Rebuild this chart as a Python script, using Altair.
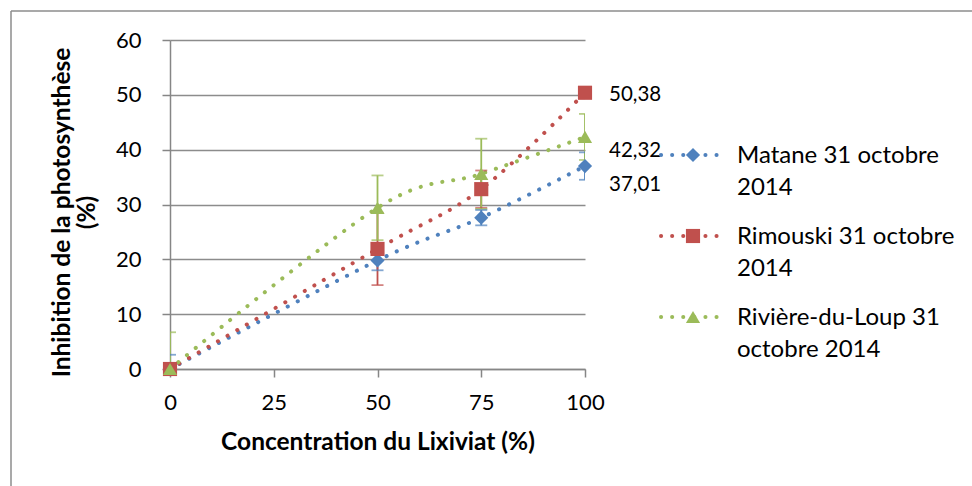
import altair as alt
import pandas as pd

# ---- data ----
concentration = [0, 50, 75, 100]
series_names = ["Matane 31 octobre 2014", "Rimouski 31 octobre 2014",
                "Rivière-du-Loup 31 octobre 2014"]
legend_line1 = ["Matane 31 octobre", "Rimouski 31 octobre", "Rivière-du-Loup 31"]
legend_line2 = ["2014", "2014", "octobre 2014"]
matane = [0, 19.8, 27.6, 37.01]
matane_err = [2.6, 1.8, 1.4, 2.5]
rimouski = [0, 21.9, 32.8, 50.38]
rimouski_err = [0, 6.6, 3.4, 1.0]
rdl = [0, 29.4, 35.6, 42.32]
rdl_err = [6.7, 5.9, 6.4, 4.2]
x_ticks = [0, 25, 50, 75, 100]
y_ticks = [0, 10, 20, 30, 40, 50, 60]

colors = ["#4F81BD", "#C0504D", "#9BBB59"]
shapes = ["diamond", "square", "triangle-up"]
FONT = "Lato"
FS_TICK = 22
FS_TEXT = 24
FS_LAB = 20.5
FS_TITLE = 24.5

rows = []
for name, vals, errs in [(series_names[0], matane, matane_err),
                         (series_names[1], rimouski, rimouski_err),
                         (series_names[2], rdl, rdl_err)]:
    for c, v, e in zip(concentration, vals, errs):
        rows.append({"series": name, "conc": c, "value": v, "err": e})
df = pd.DataFrame(rows)

legend_df = pd.DataFrame({"series": series_names, "line1": legend_line1,
                          "line2": legend_line2})

color = alt.Color("series:N", scale=alt.Scale(domain=series_names, range=colors), legend=None)
shape = alt.Shape("series:N", scale=alt.Scale(domain=series_names, range=shapes), legend=None)

x_enc = alt.X("conc:Q", scale=alt.Scale(domain=[0, 100], nice=False),
              axis=alt.Axis(values=x_ticks, title="Concentration du Lixiviat (%)", grid=False))
y_axis = alt.Axis(values=y_ticks, title=["Inhibition de la photosynthèse", "(%)"], grid=True,
                  titleY=172)
y_scale = alt.Scale(domain=[0, 60], nice=False)

base = alt.Chart(df)

lines = base.mark_line(interpolate="cardinal", strokeDash=[0.1, 11], strokeCap="round",
                       strokeWidth=4).encode(
    x=x_enc, y=alt.Y("value:Q", scale=y_scale, axis=y_axis), color=color, detail="series:N")

err_base = base.transform_filter("datum.err > 0").transform_calculate(
    lo="datum.value - datum.err", hi="datum.value + datum.err")
err_rules = err_base.mark_rule(strokeWidth=1.8, clip=True).encode(
    x=x_enc, y=alt.Y("lo:Q", scale=y_scale, axis=y_axis), y2="hi:Q", color=color)
cap_lo = err_base.mark_tick(orient="horizontal", size=12, thickness=1.8, clip=True).encode(
    x=x_enc, y=alt.Y("lo:Q", scale=y_scale, axis=y_axis), color=color)
cap_hi = err_base.mark_tick(orient="horizontal", size=12, thickness=1.8, clip=True).encode(
    x=x_enc, y=alt.Y("hi:Q", scale=y_scale, axis=y_axis), color=color)

points = base.mark_point(filled=True, size=200, opacity=1).encode(
    x=x_enc, y=alt.Y("value:Q", scale=y_scale, axis=y_axis), color=color, shape=shape)

label_dy = {series_names[0]: 19, series_names[1]: 2, series_names[2]: 14}
labels = []
for name in series_names:
    labels.append(
        base.transform_filter(alt.datum.series == name)
        .transform_filter("datum.conc == 100")
        .transform_calculate(lab="replace(format(datum.value, '.2f'), '.', ',')")
        .mark_text(align="left", baseline="middle", dx=24, dy=label_dy[name],
                   font=FONT, fontSize=FS_LAB, color="black")
        .encode(x=x_enc, y=alt.Y("value:Q", scale=y_scale, axis=y_axis), text="lab:N")
    )

data_layer = alt.layer(lines, err_rules, cap_lo, cap_hi, points, *labels)

# ---- legend ----
ly = alt.Y("series:N", scale=alt.Scale(type="point", domain=series_names,
                                        range=[115, 277], padding=0), axis=None)
lbase = alt.Chart(legend_df)
leg_line = lbase.mark_rule(strokeDash=[0.1, 11], strokeCap="round", strokeWidth=4).encode(
    x=alt.value(491), x2=alt.value(548), y=ly, color=color)
leg_pt = lbase.mark_point(filled=True, size=200, opacity=1).encode(
    x=alt.value(523), y=ly, color=color, shape=shape)
leg_t1 = lbase.mark_text(align="left", baseline="alphabetic", dy=8, font=FONT, fontSize=FS_TEXT,
                         color="black").encode(x=alt.value(567), y=ly, text="line1:N")
leg_t2 = lbase.mark_text(align="left", baseline="alphabetic", dy=40, font=FONT, fontSize=FS_TEXT,
                         color="black").encode(x=alt.value(567), y=ly, text="line2:N")
legend_layer = alt.layer(leg_line, leg_pt, leg_t1, leg_t2)

# ---- outer frame ----
frame_df = pd.DataFrame({"k": [0]})
frame_top = alt.Chart(frame_df).mark_rule(color="#8c8c8c", strokeWidth=1.5).encode(
    x=alt.value(-159), x2=alt.value(820), y=alt.value(-29))
frame_left = alt.Chart(frame_df).mark_rule(color="#8c8c8c", strokeWidth=1.5).encode(
    x=alt.value(-159), y=alt.value(-29), y2=alt.value(460))

chart = alt.layer(data_layer, legend_layer, frame_top, frame_left).resolve_scale(
    y="independent"
).properties(
    width=415, height=329,
    autosize=alt.AutoSizeParams(type="none"),
    padding={"left": 170, "top": 40, "right": 387, "bottom": 117},
    background="white",
).configure_view(stroke=None).configure_axis(
    domainColor="#868686", domainWidth=1.5, tickColor="#868686", tickWidth=1.5,
    tickSize=8, gridColor="#8c8c8c", gridWidth=1.3, labelFlush=False,
    labelFont=FONT, labelFontSize=FS_TICK, labelColor="black",
    titleFont=FONT, titleFontSize=FS_TITLE, titleFontWeight="bold", titleColor="black",
).configure_axisX(labelPadding=15, titlePadding=17).configure_axisY(
    labelPadding=21, titlePadding=16, titleLineHeight=25)

chart.save("out.html", embed_options={"renderer": "svg", "actions": False})
